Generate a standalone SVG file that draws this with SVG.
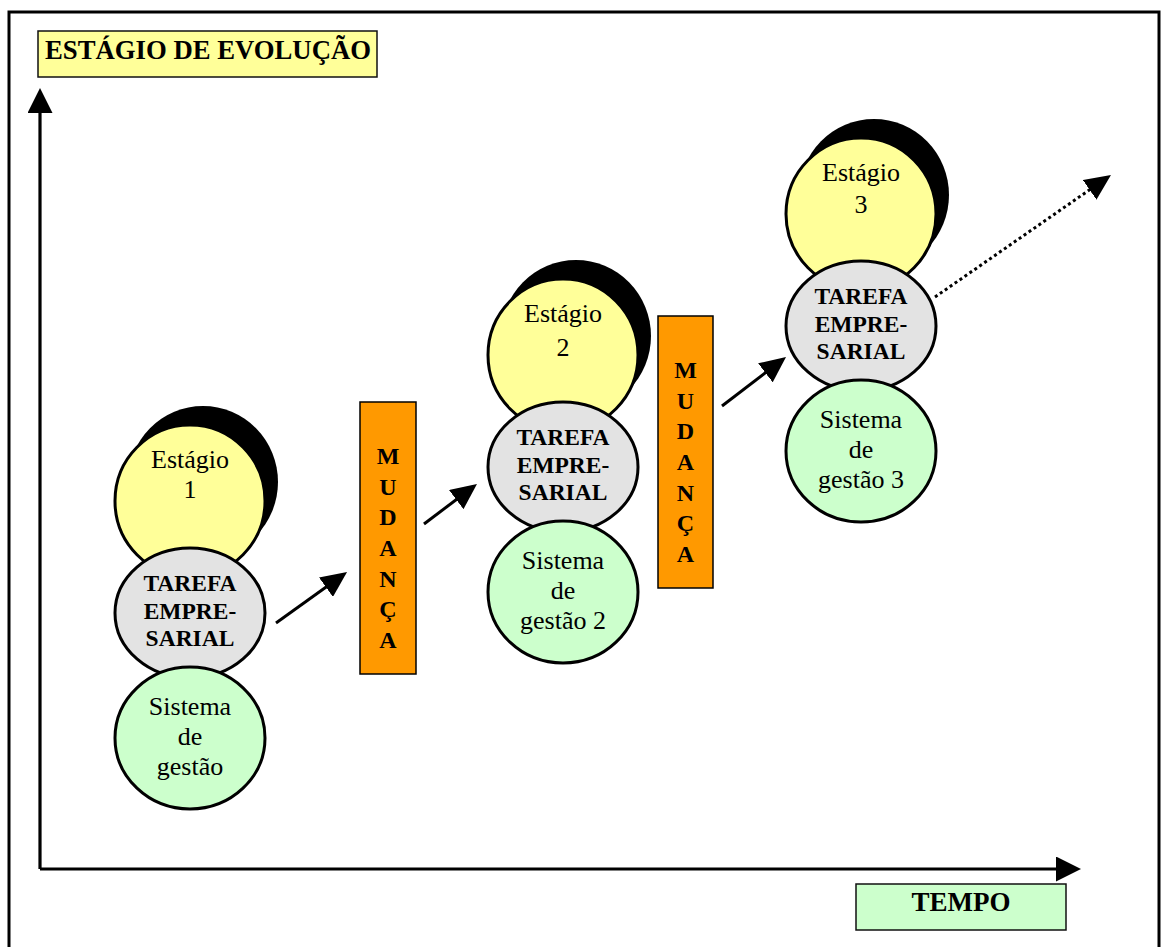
<svg xmlns="http://www.w3.org/2000/svg" width="1162" height="947" viewBox="0 0 1162 947">
  <style>
    .frame { fill: none; stroke: #000; stroke-width: 3; }
    .label { stroke: #111; stroke-width: 1.5; }
    .title { font-family: "Liberation Serif", "Times New Roman", serif; font-weight: bold; font-size: 27px; fill: #000; }
    .reg { font-family: "Liberation Serif", "Times New Roman", serif; font-size: 26px; fill: #000; text-anchor: middle; }
    .bold { font-family: "Liberation Serif", "Times New Roman", serif; font-weight: bold; font-size: 23.5px; fill: #000; text-anchor: middle; }
    .letter { font-family: "Liberation Serif", "Times New Roman", serif; font-weight: bold; font-size: 24px; fill: #000; text-anchor: middle; }
    .shadow { fill: #000; }
    .stage { fill: #FFFF99; stroke: #000; stroke-width: 3; }
    .task { fill: #E3E3E3; stroke: #000; stroke-width: 3; }
    .mgmt { fill: #CCFFCC; stroke: #000; stroke-width: 3; }
    .change { fill: #FF9900; stroke: #000; stroke-width: 1.5; }
    .axis { stroke: #000; stroke-width: 3.2; fill: none; }
    .arrow { stroke: #000; stroke-width: 3; fill: none; }
    .dotted { stroke: #000; stroke-width: 3; fill: none; stroke-dasharray: 3 3; }
  </style>
  <defs>
    <marker id="head" viewBox="0 0 26 24" refX="14" refY="12" markerWidth="26" markerHeight="24" markerUnits="userSpaceOnUse" orient="auto">
      <path d="M0,0 L26,12 L0,24 z" fill="#000"/>
    </marker>
    <marker id="axisHead" viewBox="0 0 25 25" refX="13" refY="12.5" markerWidth="25" markerHeight="25" markerUnits="userSpaceOnUse" orient="auto">
      <path d="M0,0 L25,12.5 L0,25 z" fill="#000"/>
    </marker>
    <!-- one column: stage, business task, management system -->
    <g id="stack">
      <ellipse class="shadow" cx="13" cy="-131" rx="75" ry="76"/>
      <ellipse class="stage" cx="0" cy="-112" rx="75" ry="76"/>
      <ellipse class="task" cx="0" cy="0" rx="75" ry="65"/>
      <ellipse class="mgmt" cx="0" cy="125" rx="75" ry="71"/>
      <text class="reg" x="0" y="-145">Estágio</text>
      <text class="bold" x="0" y="-22">TAREFA</text>
      <text class="bold" x="0" y="5.5">EMPRE-</text>
      <text class="bold" x="0" y="33">SARIAL</text>
      <text class="reg" x="0" y="102">Sistema</text>
      <text class="reg" x="0" y="132">de</text>
    </g>
  </defs>

  <!-- outer frame -->
  <rect class="frame" x="9" y="12" width="1150" height="950"/>

  <!-- axis labels -->
  <g id="label-y">
    <rect class="label" x="38" y="31" width="339" height="46" fill="#FFFF99"/>
    <text class="title" x="45" y="59" textLength="326" lengthAdjust="spacingAndGlyphs">ESTÁGIO DE EVOLUÇÃO</text>
  </g>
  <g id="label-x">
    <rect class="label" x="856" y="884" width="210" height="46" fill="#CCFFCC" stroke-width="2"/>
    <text class="title" x="961" y="911" text-anchor="middle">TEMPO</text>
  </g>

  <!-- axes -->
  <g id="axes">
    <path class="axis" d="M40,869 V100" marker-end="url(#axisHead)"/>
    <path class="axis" d="M40,869 H1069" marker-end="url(#axisHead)"/>
  </g>

  <!-- stage 1 -->
  <g id="stage1" transform="translate(190,613)">
    <use href="#stack"/>
    <text class="reg" x="0" y="-115">1</text>
    <text class="reg" x="0" y="162">gestão</text>
  </g>

  <!-- stage 2 -->
  <g id="stage2" transform="translate(563,467)">
    <use href="#stack"/>
    <text class="reg" x="0" y="-111">2</text>
    <text class="reg" x="0" y="162">gestão 2</text>
  </g>

  <!-- stage 3 -->
  <g id="stage3" transform="translate(861,326)">
    <use href="#stack"/>
    <text class="reg" x="0" y="-113">3</text>
    <text class="reg" x="0" y="162">gestão 3</text>
  </g>

  <!-- change bars -->
  <g id="change1">
    <rect class="change" x="360" y="402" width="56" height="272"/>
    <text class="letter" x="388" y="464">M</text>
    <text class="letter" x="388" y="494.5">U</text>
    <text class="letter" x="388" y="525">D</text>
    <text class="letter" x="388" y="556">A</text>
    <text class="letter" x="388" y="587">N</text>
    <text class="letter" x="388" y="617">Ç</text>
    <text class="letter" x="388" y="648">A</text>
  </g>
  <g id="change2">
    <rect class="change" x="658" y="316" width="55" height="272"/>
    <text class="letter" x="685.5" y="378">M</text>
    <text class="letter" x="685.5" y="408.5">U</text>
    <text class="letter" x="685.5" y="439">D</text>
    <text class="letter" x="685.5" y="470">A</text>
    <text class="letter" x="685.5" y="501">N</text>
    <text class="letter" x="685.5" y="531">Ç</text>
    <text class="letter" x="685.5" y="562">A</text>
  </g>

  <!-- connectors -->
  <g id="connectors">
    <path class="arrow" d="M276,623 L337.3,579" marker-end="url(#head)"/>
    <path class="arrow" d="M424,524 L467.4,491.2" marker-end="url(#head)"/>
    <path class="arrow" d="M722,406 L776.5,364.3" marker-end="url(#head)"/>
    <path class="dotted" d="M935,297 L1101.1,181.8" marker-end="url(#head)"/>
  </g>
</svg>
